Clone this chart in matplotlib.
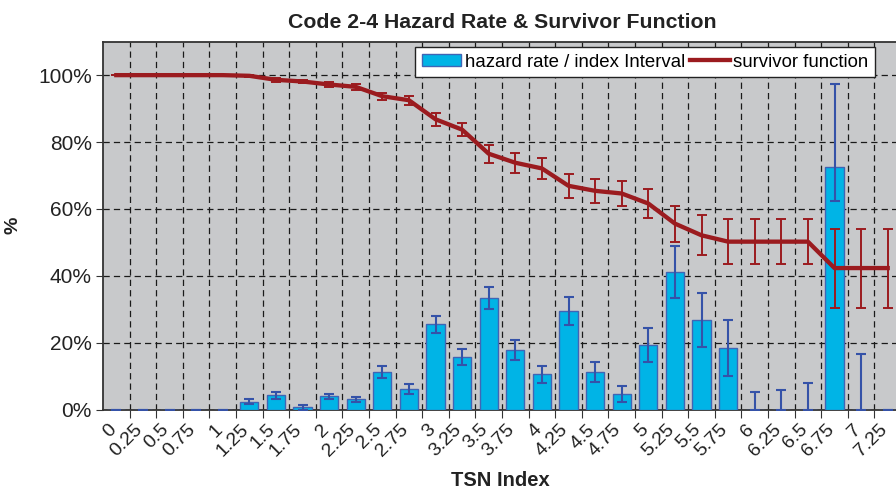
import numpy as np
import matplotlib
matplotlib.use("Agg")
import matplotlib.pyplot as plt
import matplotlib.transforms as mtransforms
from matplotlib.patches import Patch
from matplotlib.lines import Line2D

plt.rcParams['font.family'] = ['Liberation Sans', 'DejaVu Sans']

# TSN index categories
tsn_labels = ['0', '0.25', '0.5', '0.75', '1', '1.25', '1.5', '1.75', '2', '2.25',
              '2.5', '2.75', '3', '3.25', '3.5', '3.75', '4', '4.25', '4.5', '4.75',
              '5', '5.25', '5.5', '5.75', '6', '6.25', '6.5', '6.75', '7', '7.25']

# hazard rate per index interval (%) and its error bars (lower / upper)
hazard = [0, 0, 0, 0, 0, 2.3, 4.2, 0.7, 3.9, 3.0,
          11.2, 6.1, 25.5, 15.8, 33.4, 17.7, 10.5, 29.5, 11.2, 4.6,
          19.4, 41.2, 26.7, 18.5, 0, 0, 0, 72.6, 0, 0]
hazard_err_lo = [0, 0, 0, 0, 0, 0.8, 1.1, 0.7, 0.85, 0.85,
                 1.9, 1.5, 2.5, 2.4, 3.2, 3.0, 2.6, 4.1, 3.1, 2.4,
                 5.1, 7.8, 8.1, 8.4, 0, 0, 0, 10.1, 0, 0]
hazard_err_hi = [0, 0, 0, 0, 0, 0.8, 1.1, 0.7, 0.85, 0.85,
                 1.9, 1.5, 2.5, 2.4, 3.2, 3.0, 2.6, 4.1, 3.1, 2.4,
                 5.1, 7.8, 8.1, 8.4, 5.1, 5.8, 7.8, 24.6, 16.6, 0]

# survivor function (%) and its error
survivor = [100, 100, 100, 100, 100, 99.8, 98.6, 98.1, 97.2, 96.5,
            93.7, 92.5, 86.8, 83.7, 76.5, 73.8, 72.1, 66.9, 65.4, 64.6,
            61.6, 55.6, 52.1, 50.2, 50.2, 50.2, 50.2, 42.3, 42.3, 42.3]
survivor_err = [0, 0, 0, 0, 0, 0.3, 0.6, 0.5, 0.8, 0.9,
                1.1, 1.3, 1.9, 2.0, 2.7, 3.0, 3.1, 3.6, 3.6, 3.8,
                4.2, 5.4, 6.0, 6.8, 6.8, 6.8, 6.8, 11.8, 11.8, 11.8]

bar_col = '#00b4e6'
bar_edge = '#4065b5'
err_blue = '#3552a8'
red = '#9b1b1f'
txt = '#222222'

fig = plt.figure(figsize=(8.96, 4.9), dpi=100)
ax = fig.add_axes([103 / 896, 1 - 409.5 / 490, (901 - 103) / 896, (409.5 - 41.7) / 490])
ax.set_facecolor('#c8c9cb')

x = np.arange(len(tsn_labels))

ax.bar(x, hazard, width=0.68, color=bar_col, edgecolor=bar_edge, linewidth=1.0, zorder=3)
ax.errorbar(x, hazard, yerr=[hazard_err_lo, hazard_err_hi], fmt='none',
            ecolor=err_blue, elinewidth=1.5, capsize=3.6, capthick=1.5, zorder=4)

ax.errorbar(x, survivor, yerr=survivor_err, color=red, linewidth=3.1,
            ecolor=red, elinewidth=1.4, capsize=3.6, capthick=1.4, zorder=5)

ax.set_xlim(-0.5, 29.5)
ax.set_ylim(0, 110)

# ticks / grid at category boundaries, labels at category centres
ax.set_xticks(x[:-1] + 0.5)
ax.set_xticks(x, minor=True)
ax.set_xticklabels([])
ax.set_xticklabels(tsn_labels, minor=True, rotation=45, ha='right', va='top',
                   rotation_mode='anchor', fontsize=14, color=txt)
ax.tick_params(axis='x', which='minor', length=0, pad=4)
ax.tick_params(axis='x', which='major', length=6, color='#333333', direction='out')
shift = mtransforms.ScaledTranslation(-9 / 100, -6 / 100, fig.dpi_scale_trans)
for lab in ax.get_xticklabels(minor=True):
    lab.set_transform(lab.get_transform() + shift)

ax.set_yticks([0, 20, 40, 60, 80, 100])
ax.set_yticklabels(['0%', '20%', '40%', '60%', '80%', '100%'], fontsize=15, color=txt)
ax.tick_params(axis='y', length=5, color='#333333', pad=3)

ax.grid(True, which='major', color='#1a1a1a', linestyle=(0, (5, 3.3)), linewidth=0.9, zorder=1)
ax.set_axisbelow(True)

for s in ax.spines.values():
    s.set_color('#333333')
    s.set_linewidth(1.3)

ax.set_title('Code 2-4 Hazard Rate & Survivor Function', fontsize=15.3, fontweight='bold',
             color=txt, pad=10, x=(502 - 103) / (901 - 103))
ax.set_ylabel('%', fontsize=14, fontweight='bold', labelpad=12, color=txt)
fig.text(500 / 896, 1 - 480 / 490, 'TSN Index', ha='center', va='center',
         fontsize=14.5, fontweight='bold', color=txt)

handles = [Patch(facecolor=bar_col, edgecolor=bar_edge, linewidth=1.0),
           Line2D([0], [0], color=red, linewidth=3.1)]
leg = ax.legend(handles, ['hazard rate / index Interval', 'survivor function'], ncol=2,
                loc='upper right', bbox_to_anchor=(875 / 896, 1 - 47 / 490),
                bbox_transform=fig.transFigure, borderaxespad=0, fontsize=13.4,
                fancybox=False, framealpha=1, edgecolor=txt,
                handlelength=2.1, handleheight=0.6, handletextpad=0.2,
                columnspacing=0.3, borderpad=0.35)
leg.get_frame().set_linewidth(1.0)
leg.set_zorder(10)

fig.savefig('out.png', dpi=100)
